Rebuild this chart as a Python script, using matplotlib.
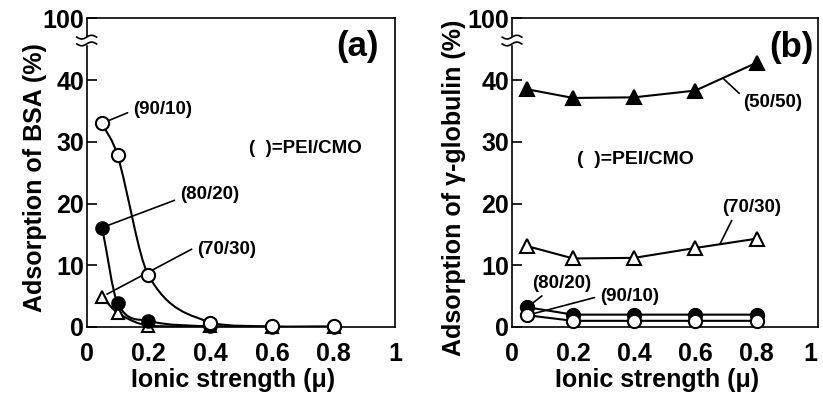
import numpy as np
import matplotlib
matplotlib.use('Agg')
import matplotlib.pyplot as plt
import matplotlib.transforms as mtransforms
from matplotlib.path import Path
from matplotlib.patches import PathPatch

plt.rcParams['font.family'] = ['Liberation Sans', 'DejaVu Sans']
plt.rcParams['font.weight'] = 'bold'

# ---------------- data ----------------
# Panel (a): adsorption of BSA vs ionic strength
a_x = [0.05, 0.1, 0.2, 0.4, 0.6, 0.8]
a_90_10 = [33.0, 27.8, 8.4, 0.7, 0.1, 0.1]
a_80_20 = [16.1, 3.9, 1.0, 0.1, 0.0, 0.0]
a_70_30 = [4.9, 2.3, 0.2, 0.1, 0.0, 0.0]

# Panel (b): adsorption of gamma-globulin vs ionic strength
b_x = [0.05, 0.2, 0.4, 0.6, 0.8]
b_50_50 = [38.5, 37.1, 37.2, 38.3, 42.8]
b_70_30 = [13.1, 11.1, 11.2, 12.8, 14.3]
b_80_20 = [3.2, 2.0, 2.0, 2.0, 2.0]
b_90_10 = [1.9, 1.0, 1.0, 1.0, 1.0]

x_ticks = [0, 0.2, 0.4, 0.6, 0.8, 1]
x_tick_labels = ['0', '0.2', '0.4', '0.6', '0.8', '1']
y_ticks = [0, 10, 20, 30, 40, 50]
y_tick_labels = ['0', '10', '20', '30', '40', '100']

FS = 18
LW = 1.5


def smooth_path(x, y):
    """Cubic Bezier path passing through the data points (Catmull-Rom tangents)."""
    x = np.asarray(x, float)
    y = np.asarray(y, float)
    n = len(x)
    m = np.zeros(n)
    m[0] = (y[1] - y[0]) / (x[1] - x[0])
    m[-1] = (y[-1] - y[-2]) / (x[-1] - x[-2])
    for i in range(1, n - 1):
        m[i] = (y[i + 1] - y[i - 1]) / (x[i + 1] - x[i - 1])
    verts = [(x[0], y[0])]
    codes = [Path.MOVETO]
    for i in range(n - 1):
        h = x[i + 1] - x[i]
        c1 = (x[i] + h / 3, max(y[i] + m[i] * h / 3, 0.0))
        c2 = (x[i + 1] - h / 3, max(y[i + 1] - m[i + 1] * h / 3, 0.0))
        verts += [c1, c2, (x[i + 1], y[i + 1])]
        codes += [Path.CURVE4] * 3
    return Path(verts, codes)


def style_axes(ax, last_right=False):
    ax.set_xlim(0, 1)
    ax.set_ylim(0, 50)
    ax.set_xticks(x_ticks)
    ax.set_xticklabels(x_tick_labels)
    ax.set_yticks(y_ticks)
    ax.set_yticklabels(y_tick_labels)
    ax.tick_params(axis='x', length=0, pad=11, labelsize=FS)
    ax.tick_params(axis='y', direction='in', length=7, width=1.2, pad=2,
                   labelsize=FS, right=False)
    for lab in ax.get_xticklabels() + ax.get_yticklabels():
        lab.set_fontweight('bold')
    if last_right:
        ax.get_xticklabels()[-1].set_horizontalalignment('right')
    for s in ax.spines.values():
        s.set_linewidth(1.2)
    ax.set_xlabel('Ionic strength (\u03bc)', fontsize=FS, fontweight='bold')
    ax.xaxis.set_label_coords(0.475, -0.133)
    # axis break marks on the left spine
    trans = mtransforms.blended_transform_factory(ax.transAxes, ax.transData)
    t = np.linspace(-1, 1, 40)
    yc = 46.4
    ax.fill_between([-0.01, 0.01], [yc - 0.55] * 2, [yc + 0.55] * 2,
                    color='white', transform=trans, clip_on=False, zorder=5)
    for dy in (-0.55, 0.55):
        ax.plot(0.032 * t, yc + dy + 0.3 * np.sin(np.pi * t), color='black',
                lw=1.2, transform=trans, clip_on=False, zorder=6)


fig = plt.figure(figsize=(8.23, 3.98), dpi=100)
axa = fig.add_axes([0.1053, 0.1784, 0.3752, 0.7756])
axb = fig.add_axes([0.6221, 0.1784, 0.3714, 0.7756])

# ---------------- panel (a) ----------------
open_kw = dict(mfc='white', mec='black', mew=1.5, ls='none', clip_on=False)
fill_kw = dict(mfc='black', mec='black', mew=1.5, ls='none', clip_on=False)

for ys in (a_70_30, a_80_20, a_90_10):
    axa.add_patch(PathPatch(smooth_path(a_x, ys), fill=False, lw=LW,
                            ec='black', zorder=2))
axa.plot(a_x, a_70_30, marker='^', ms=9, zorder=3, **open_kw)
axa.plot(a_x, a_80_20, marker='o', ms=9, zorder=4, **fill_kw)
axa.plot(a_x, a_90_10, marker='o', ms=9.5, zorder=5, **open_kw)
style_axes(axa)

ann_kw = dict(fontsize=13.5, fontweight='bold', va='center', ha='left')
axa.annotate('(90/10)', xy=(a_x[0], a_90_10[0]), xytext=(0.150, 35.2),
             arrowprops=dict(arrowstyle='-', lw=1.2, shrinkA=2, shrinkB=5,
                             relpos=(0, 0.45)), **ann_kw)
axa.annotate('(80/20)', xy=(a_x[0], a_80_20[0]), xytext=(0.302, 21.4),
             arrowprops=dict(arrowstyle='-', lw=1.2, shrinkA=2, shrinkB=4,
                             relpos=(0, 0.3)), **ann_kw)
axa.annotate('(70/30)', xy=(a_x[0], a_70_30[0]), xytext=(0.357, 12.5),
             arrowprops=dict(arrowstyle='-', lw=1.2, shrinkA=2, shrinkB=4,
                             relpos=(0, 0.7)), **ann_kw)
axa.text(0.527, 28.85, '(  )=PEI/CMO', fontsize=13.5, fontweight='bold',
         va='center', ha='left')
axa.text(0.877, 45.4, '(a)', fontsize=25, fontweight='bold',
         va='center', ha='center')

# ---------------- panel (b) ----------------
for ys in (b_50_50, b_70_30, b_80_20, b_90_10):
    axb.plot(b_x, ys, color='black', lw=LW, zorder=2)
axb.plot(b_x, b_50_50, marker='^', ms=10, zorder=4, **fill_kw)
axb.plot(b_x, b_70_30, marker='^', ms=10, zorder=4, **open_kw)
axb.plot(b_x, b_80_20, marker='o', ms=9.5, zorder=4, **fill_kw)
axb.plot(b_x, b_90_10, marker='o', ms=9.5, zorder=5, **open_kw)
style_axes(axb, last_right=True)

axb.annotate('(50/50)', xy=(0.69, 40.3), xytext=(0.756, 36.3),
             arrowprops=dict(arrowstyle='-', lw=1.2, shrinkA=1, shrinkB=0,
                             relpos=(0, 0.85)), **ann_kw)
axb.annotate('(70/30)', xy=(0.68, 13.4), xytext=(0.687, 19.3),
             arrowprops=dict(arrowstyle='-', lw=1.2, shrinkA=1, shrinkB=0,
                             relpos=(0.2, 0.0)), **ann_kw)
axb.annotate('(80/20)', xy=(b_x[0], b_80_20[0]), xytext=(0.065, 7.0),
             arrowprops=dict(arrowstyle='-', lw=1.2, shrinkA=1, shrinkB=3,
                             relpos=(0.25, 0.0)), **ann_kw)
axb.annotate('(90/10)', xy=(b_x[0], b_90_10[0]), xytext=(0.288, 5.0),
             arrowprops=dict(arrowstyle='-', lw=1.2, shrinkA=2, shrinkB=5,
                             relpos=(0, 0.5)), **ann_kw)
axb.text(0.2126, 27.2, '(  )=PEI/CMO', fontsize=14, fontweight='bold',
         va='center', ha='left')
axb.text(0.9127, 45.2, '(b)', fontsize=25, fontweight='bold',
         va='center', ha='center')

# y labels placed to match the reference
fig.text(35 / 823, 1 - 178 / 398, 'Adsorption of BSA (%)', rotation=90,
         fontsize=FS, fontweight='bold', ha='center', va='center')
fig.text(454 / 823, 1 - 188 / 398, 'Adsorption of \u03b3-globulin (%)',
         rotation=90, fontsize=FS, fontweight='bold', ha='center', va='center')

fig.savefig('out.png', dpi=100)
